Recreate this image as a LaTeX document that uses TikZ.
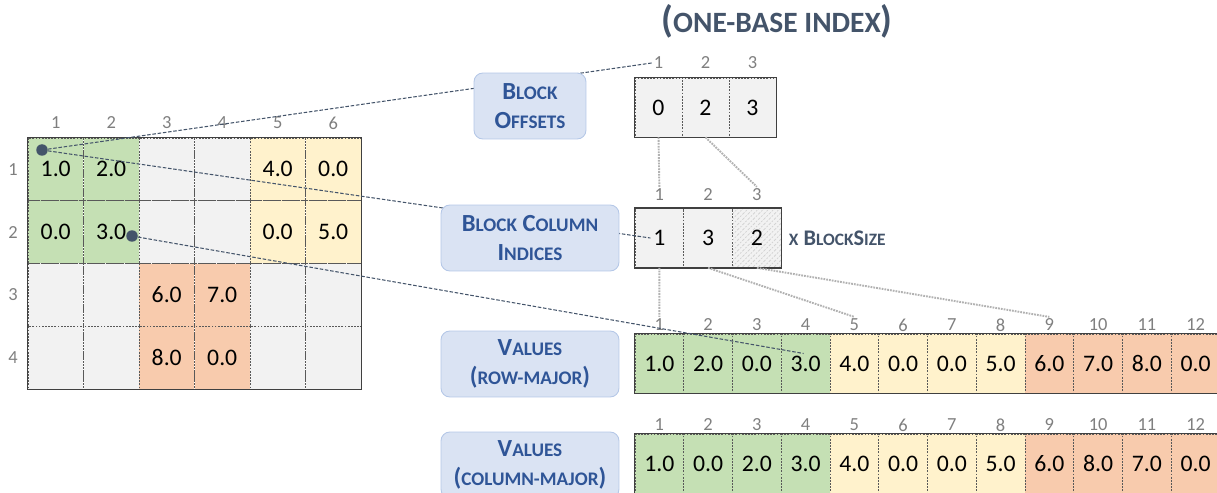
\documentclass[tikz,border=0pt]{standalone}
\usepackage{fontspec}
\setmainfont{Carlito}
\usepackage{graphicx}
\usetikzlibrary{calc,patterns}

\definecolor{blkgreen}{HTML}{C5E0B4}
\definecolor{blkyellow}{HTML}{FFF2CC}
\definecolor{blkorange}{HTML}{F8CBAD}
\definecolor{cellgrey}{HTML}{F2F2F2}
\definecolor{boxblue}{HTML}{DAE3F3}
\definecolor{boxedge}{HTML}{B4C7E7}
\definecolor{textblue}{HTML}{2F5597}
\definecolor{slate}{HTML}{44546A}
\definecolor{idxgrey}{HTML}{7F7F7F}

\newcommand\sm[1]{\scalebox{0.78}{#1}}

\tikzset{
	cell/.style={draw=black!65, dash pattern=on 1pt off 0.8pt, line width=0.4pt, inner sep=0pt,
		minimum width=0.975cm, minimum height=1.18cm, font=\fontsize{13.5}{16}\selectfont},
	mcell/.style={cell, minimum width=1.11cm, minimum height=1.255cm},
	frame/.style={draw=black!75, line width=0.9pt},
	idx/.style={text=idxgrey, inner sep=1pt, font=\fontsize{10.5}{12}\selectfont},
	lbl/.style={draw=boxedge, fill=boxblue, rounded corners=5pt, line width=0.5pt, text=textblue,
		align=center, minimum width=3.56cm, minimum height=1.32cm, font=\bfseries\fontsize{14}{16.5}\selectfont},
	link/.style={draw=slate, dash pattern=on 2pt off 1pt, line width=0.6pt},
	guide/.style={draw=black!30, dash pattern=on 1pt off 0.6pt, line width=1.1pt},
	dot/.style={circle, fill=slate, inner sep=0pt, minimum size=0.23cm}
}

\begin{document}
\begin{tikzpicture}[x=0.02cm, y=-0.02cm]
		%%%%% START %%%%%
		\useasboundingbox (0,0) rectangle (1217,493);
		\clip (0,0) rectangle (1217,493);
		
		% dense matrix
		\foreach \v/\f [count=\k from 0] in {1.0/blkgreen, 2.0/blkgreen, /cellgrey, /cellgrey, 4.0/blkyellow, 0.0/blkyellow,
			0.0/blkgreen, 3.0/blkgreen, /cellgrey, /cellgrey, 0.0/blkyellow, 5.0/blkyellow,
			/cellgrey, /cellgrey, 6.0/blkorange, 7.0/blkorange, /cellgrey, /cellgrey,
			/cellgrey, /cellgrey, 8.0/blkorange, 0.0/blkorange, /cellgrey, /cellgrey} {
			\pgfmathtruncatemacro\r{int(\k/6)+1}
			\pgfmathtruncatemacro\c{mod(\k,6)+1}
			\node[mcell, fill=\f] (m\r\c) at ({28+55.5*(\c-0.5)}, {138+62.75*(\r-0.5)}) {\v};
		}
		\draw[frame] (m11.north west) rectangle (m46.south east);
		\foreach \c in {1,...,6}
			\node[idx] (mc\c) at ({28+55.5*(\c-0.5)}, 123) {\c};
		\foreach \r in {1,...,4}
			\node[idx] (mr\r) at (13, {138+62.75*(\r-0.5)}) {\r};
		
		% block offsets
		\foreach \v [count=\i] in {0,2,3} {
			\node[cell, minimum width=0.94cm, fill=cellgrey] (off\i) at ({635+47*(\i-0.5)}, 107.5) {\v};
			\node[idx] (offi\i) at ({635+47*(\i-0.5)}, 63) {\i};
		}
		\draw[frame] (off1.north west) rectangle (off3.south east);
		
		% block column indices
		\node[cell, fill=cellgrey] (bci1) at (659.4, 238) {1};
		\node[cell, fill=cellgrey] (bci2) at (708.1, 238) {3};
		\node[cell, fill=cellgrey, postaction={pattern=north east lines, pattern color=black!18}] (bci3) at (756.9, 238) {2};
		\foreach \i in {1,2,3}
			\node[idx] (bcii\i) at ({635+48.75*(\i-0.5)}, 195) {\i};
		\draw[frame] (bci1.north west) rectangle (bci3.south east);
		\node[anchor=west, inner sep=0pt, text=slate, font=\bfseries\fontsize{12.7}{14}\selectfont] (bsz)
			at ($(bci3.east)+(7,0)$) {\sm{X} B\sm{LOCK}S\sm{IZE}};
		
		% values, row-major and column-major
		\foreach \v/\f [count=\i] in {1.0/blkgreen, 2.0/blkgreen, 0.0/blkgreen, 3.0/blkgreen,
			4.0/blkyellow, 0.0/blkyellow, 0.0/blkyellow, 5.0/blkyellow,
			6.0/blkorange, 7.0/blkorange, 8.0/blkorange, 0.0/blkorange} {
			\node[cell, fill=\f] (rm\i) at ({635+48.75*(\i-0.5)}, 363.5) {\v};
			\node[idx] (rmi\i) at ({635+48.75*(\i-0.5)}, 325) {\i};
		}
		\draw[frame] (rm1.north west) rectangle (rm12.south east);
		\foreach \v/\f [count=\i] in {1.0/blkgreen, 0.0/blkgreen, 2.0/blkgreen, 3.0/blkgreen,
			4.0/blkyellow, 0.0/blkyellow, 0.0/blkyellow, 5.0/blkyellow,
			6.0/blkorange, 8.0/blkorange, 7.0/blkorange, 0.0/blkorange} {
			\node[cell, fill=\f] (cm\i) at ({635+48.75*(\i-0.5)}, 463.5) {\v};
			\node[idx] (cmi\i) at ({635+48.75*(\i-0.5)}, 425) {\i};
		}
		\draw[frame] (cm1.north west) rectangle (cm12.south east);
		
		% guides between the arrays
		\draw[guide] (off1.south) -- (bcii1.north);
		\draw[guide] (off2.south) -- (bcii3.north);
		\draw[guide] (bci1.south) -- (rmi1.north);
		\draw[guide] (bci2.south) -- (rmi5.north);
		\draw[guide] (bci3.south) -- (rmi9.north);
		
		% pointers from the matrix
		\node[dot] (p1) at (42, 150) {};
		\node[dot] (p2) at (132, 236) {};
		\draw[link] (p1) -- (offi1.west);
		\draw[link] (p1) -- ($(bci1.center)+(-9,0)$);
		\draw[link] (p2) -- ($(rm4.center)+(-2,-10)$);
		
		% labels
		\node[lbl, minimum width=2.24cm] (offlbl) at (530, 106) {B\sm{LOCK}\\O\sm{FFSETS}};
		\node[lbl] (bcilbl) at (530, 238) {B\sm{LOCK} C\sm{OLUMN}\\I\sm{NDICES}};
		\node[lbl] (rmlbl) at (530, 364) {V\sm{ALUES}\\(\sm{ROW-MAJOR})};
		\node[lbl] (cmlbl) at (530, 465) {V\sm{ALUES}\\(\sm{COLUMN-MAJOR})};
		\node[text=slate, font=\bfseries\fontsize{21.5}{24}\selectfont] (title) at (777, 21) {(\sm{ONE-BASE INDEX})};
		%%%%% END %%%%%
\end{tikzpicture}
\end{document}
